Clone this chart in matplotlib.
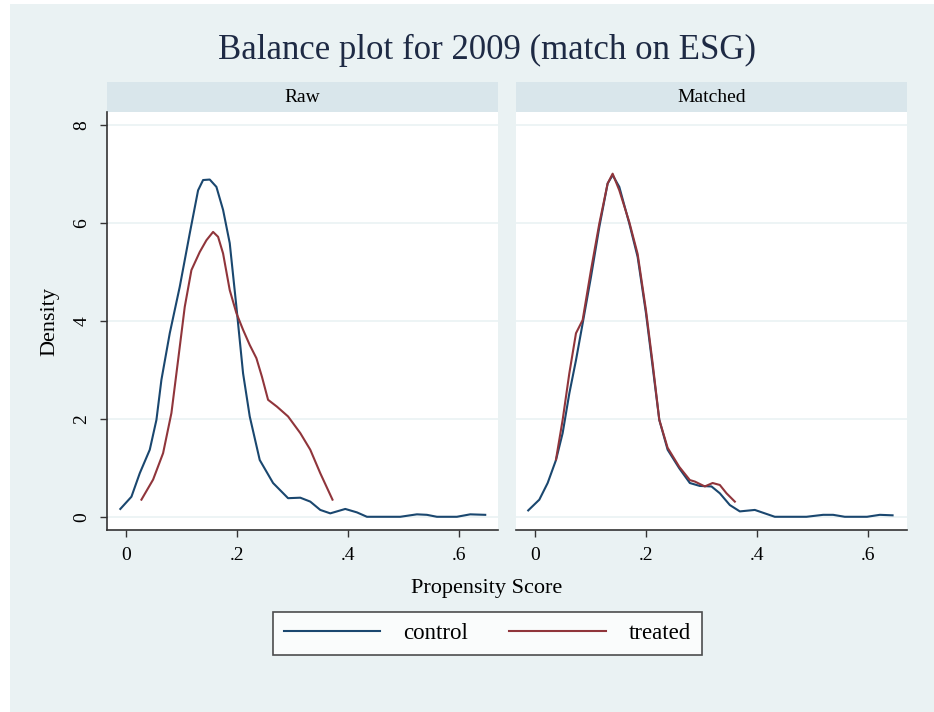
import matplotlib.pyplot as plt
from matplotlib.patches import Rectangle

# kernel density curves
raw_ctrl_x = [-0.010, 0.010, 0.025, 0.043, 0.055, 0.064, 0.079, 0.097, 0.115, 0.130, 0.139, 0.151,
              0.163, 0.175, 0.187, 0.199, 0.211, 0.223, 0.241, 0.265, 0.292, 0.314, 0.332, 0.350,
              0.368, 0.395, 0.416, 0.434, 0.494, 0.524, 0.542, 0.560, 0.596, 0.620, 0.647]
raw_ctrl_y = [0.16, 0.41, 0.89, 1.37, 1.98, 2.80, 3.75, 4.70, 5.79, 6.67, 6.88, 6.89,
              6.74, 6.27, 5.59, 4.29, 2.93, 2.05, 1.16, 0.69, 0.38, 0.39, 0.31, 0.14,
              0.07, 0.16, 0.09, 0.00, 0.00, 0.05, 0.04, 0.00, 0.00, 0.05, 0.04]

raw_treat_x = [0.028, 0.049, 0.067, 0.082, 0.094, 0.106, 0.118, 0.133, 0.145, 0.157, 0.166, 0.175,
               0.187, 0.199, 0.211, 0.223, 0.235, 0.245, 0.256, 0.272, 0.292, 0.314, 0.332, 0.350, 0.372]
raw_treat_y = [0.35, 0.76, 1.30, 2.12, 3.20, 4.29, 5.04, 5.41, 5.65, 5.82, 5.72, 5.38,
               4.63, 4.16, 3.82, 3.51, 3.24, 2.86, 2.39, 2.25, 2.05, 1.71, 1.37, 0.89, 0.35]

m_ctrl_x = [-0.012, 0.008, 0.023, 0.038, 0.050, 0.062, 0.074, 0.086, 0.101, 0.116, 0.131, 0.140,
            0.152, 0.170, 0.185, 0.200, 0.212, 0.224, 0.239, 0.260, 0.279, 0.297, 0.318, 0.333,
            0.351, 0.369, 0.396, 0.432, 0.489, 0.519, 0.537, 0.558, 0.598, 0.621, 0.644]
m_ctrl_y = [0.13, 0.35, 0.69, 1.16, 1.71, 2.52, 3.20, 3.95, 4.90, 5.92, 6.81, 6.98,
            6.74, 5.99, 5.31, 4.16, 3.07, 1.98, 1.37, 0.99, 0.69, 0.63, 0.62, 0.48,
            0.24, 0.11, 0.14, 0.00, 0.00, 0.04, 0.04, 0.00, 0.00, 0.04, 0.03]

m_treat_x = [0.038, 0.050, 0.062, 0.074, 0.086, 0.101, 0.116, 0.131, 0.140, 0.152, 0.170, 0.185,
             0.200, 0.212, 0.224, 0.239, 0.260, 0.279, 0.288, 0.306, 0.320, 0.333, 0.345, 0.360]
m_treat_y = [1.17, 1.98, 2.93, 3.75, 4.02, 5.04, 5.99, 6.81, 7.01, 6.67, 6.02, 5.37,
             4.22, 3.14, 1.98, 1.41, 1.02, 0.75, 0.72, 0.62, 0.69, 0.65, 0.48, 0.31]

panels = ["Raw", "Matched"]
xticks = [0, 0.2, 0.4, 0.6]
xticklabels = ["0", ".2", ".4", ".6"]
yticks = [0, 2, 4, 6, 8]

BG = "#EAF2F3"
HEAD = "#D9E6EB"
BLUE = "#1A476F"
RED = "#90353B"
AXC = "#333333"

plt.rcParams['font.family'] = ['Liberation Serif', 'DejaVu Serif']

W, H = 934, 712
fig = plt.figure(figsize=(W / 100, H / 100), dpi=100, facecolor="white")
fig.patches.append(Rectangle((10 / W, 0), 1, 1 - 4 / H, transform=fig.transFigure,
                             facecolor=BG, edgecolor="none", zorder=-10))


def fbox(x0, y0, x1, y1):
    # pixel box (top-left origin) -> figure fraction rect
    return [x0 / W, 1 - y1 / H, (x1 - x0) / W, (y1 - y0) / H]


data = [(raw_ctrl_x, raw_ctrl_y, raw_treat_x, raw_treat_y),
        (m_ctrl_x, m_ctrl_y, m_treat_x, m_treat_y)]
lefts = [107, 516]

for i, name in enumerate(panels):
    x0 = lefts[i]
    hax = fig.add_axes(fbox(x0, 82, x0 + 391, 112))
    hax.set_facecolor(HEAD)
    hax.set_xticks([])
    hax.set_yticks([])
    for s in hax.spines.values():
        s.set_visible(False)
    hax.text(0.5, 0.5, name, ha="center", va="center", fontsize=14, transform=hax.transAxes)

    ax = fig.add_axes(fbox(x0, 112, x0 + 391, 530))
    ax.set_facecolor("white")
    cx, cy, tx, ty = data[i]
    ax.plot(cx, cy, color=BLUE, lw=1.5, label="control")
    ax.plot(tx, ty, color=RED, lw=1.5, label="treated")
    ax.set_xlim(-0.034, 0.670)
    ax.set_ylim(-0.27, 8.27)
    ax.set_yticks(yticks)
    ax.yaxis.grid(True, color=BG, lw=1.2)
    ax.set_axisbelow(True)
    ax.set_xticks(xticks)
    ax.set_xticklabels(xticklabels, fontsize=14)
    ax.tick_params(axis="x", length=5, width=1, color=AXC, pad=7)
    for s in ["top", "right"]:
        ax.spines[s].set_visible(False)
    ax.spines["bottom"].set_color(AXC)
    ax.spines["bottom"].set_linewidth(1.2)
    if i == 0:
        ax.spines["left"].set_color(AXC)
        ax.spines["left"].set_linewidth(1.2)
        ax.set_yticklabels([str(v) for v in yticks], fontsize=14, rotation=90, va="center")
        ax.tick_params(axis="y", length=5, width=1, color=AXC, pad=7)
        ax.set_ylabel("Density", fontsize=16, labelpad=10)
    else:
        ax.spines["left"].set_visible(False)
        ax.tick_params(axis="y", length=0, labelleft=False)

fig.text(487 / W, 1 - 50 / H, "Balance plot for 2009 (match on ESG)", ha="center", va="center",
         fontsize=25, color="#1E2A44")
fig.text(487 / W, 1 - 589 / H, "Propensity Score", ha="center", va="center", fontsize=16)

handles, labels = ax.get_legend_handles_labels()
leg = fig.legend(handles, labels, loc="center", bbox_to_anchor=(487.5 / W, 1 - 633.5 / H),
                 ncol=2, fontsize=16.5, frameon=True, fancybox=False, handlelength=4.2,
                 handletextpad=1.0, columnspacing=1.8, borderpad=0.5)
leg.get_frame().set_edgecolor("#222222")
leg.get_frame().set_linewidth(1.2)

fig.savefig("out.png", dpi=100, facecolor=fig.get_facecolor())
